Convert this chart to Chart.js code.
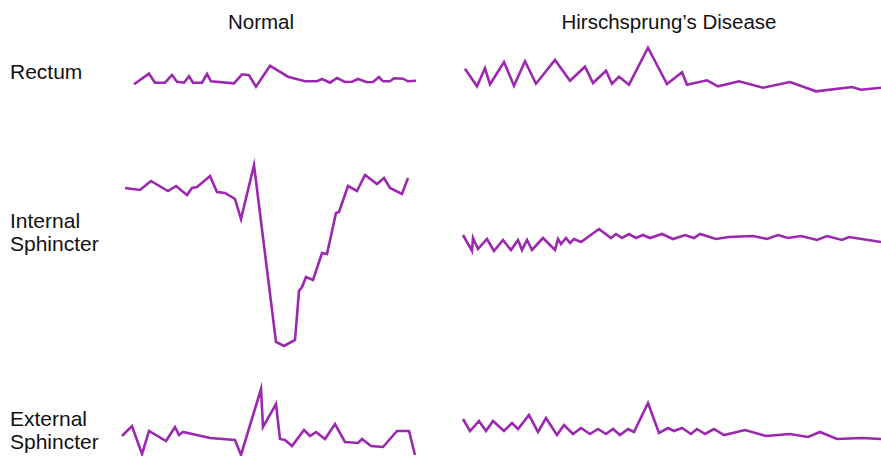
<!DOCTYPE html>
<html>
<head>
<meta charset="utf-8">
<script src="https://cdn.jsdelivr.net/npm/chart.js@4.4.0/dist/chart.umd.min.js"></script>
<style>
  body { margin: 0; background: #fff; width: 881px; height: 456px; overflow: hidden; position: relative;
         font-family: "Liberation Sans", Arial, sans-serif; color: #111; }
  .lbl { position: absolute; font-size: 21px; line-height: 23px; white-space: nowrap; }
  .head { transform: translateX(-50%); font-size: 20.5px; }
  canvas { position: absolute; }
</style>
</head>
<body>
<div class="lbl head" style="left:261px; top:10px">Normal</div>
<div class="lbl head" style="left:669px; top:10px">Hirschsprung’s Disease</div>
<div class="lbl" style="left:10px; top:60px">Rectum</div>
<div class="lbl" style="left:10px; top:209px">Internal<br>Sphincter</div>
<div class="lbl" style="left:10px; top:407px">External<br>Sphincter</div>

<canvas id="c1" style="left:115px; top:40px" width="310" height="60"></canvas>
<canvas id="c2" style="left:455px; top:35px" width="426" height="65"></canvas>
<canvas id="c3" style="left:115px; top:155px" width="310" height="200"></canvas>
<canvas id="c4" style="left:455px; top:215px" width="426" height="45"></canvas>
<canvas id="c5" style="left:115px; top:380px" width="310" height="76"></canvas>
<canvas id="c6" style="left:455px; top:390px" width="426" height="60"></canvas>

<script>
// pressure traces, time (arbitrary units) and pressure (arbitrary units)
var normRectumT = [19,34,40,50,57,62,69,74,78,87,92,96,119,127,134,141,155,173,190,202,207,215,222,230,237,243,252,258,264,268,275,279,288,293,301]
var normRectumP = [15.7,26.3,17.3,17.3,25,18.3,17.3,23.7,17.3,17.3,26,18.7,16.7,25.7,24.7,13.3,34.3,23.3,18.7,18.7,21,17.3,22,18,18.3,21,17.7,18,23,18.7,18.7,21.7,21.3,18.7,19.3]

var hdRectumT = [10,22,30,35,49,59,70,81,100,115,130,138,151,157,164,174,193,212,227,232,252,263,284,308,335,361,397,406,426]
var hdRectumP = [31.3,13.7,31.7,15.7,38,14.3,38.7,16.3,40,19.3,33.3,17,29.3,16.3,23.3,15.3,52.3,16,27.7,15.3,19.7,13.7,18.7,12.3,18,8.7,13,10.3,12.3]

var normIntT = [10,25,36,53,61,72,77,82,95,102,110,120,126,139,161,169,180,184,187,191,198,207,212,221,224,233,242,250,262,269,275,287,293]
var normIntP = [167,165,174,164,169,160,167,168,179,163,162,156,136,190,13,9,15,64,68,78,75,102,101,142,143,169,164,180,171,177,167,161,177]

var hdIntT = [8,17,18,23,32,39,48,56,63,67,72,77,88,100,103,106,111,115,119,126,144,156,161,167,174,181,188,195,207,218,230,239,245,261,274,298,312,323,333,346,362,372,387,394,426]
var hdIntP = [25,9,22,11,21,9,20,10,20,10,20,10,22,10,21,16,22,17,21,18,31,22,26,22,26,22,25,22,26,21,25,22,26,21,23,24,21,25,22,24,20,24,20,23,18]

var normExtT = [7,17,27,34,51,60,64,68,95,120,126,146,148,161,165,170,177,189,195,201,210,220,230,243,247,256,268,282,294,300]
var normExtP = [20,30,2,25,15,29,21,24,18,16,1,67,29,52,17,16,10,26,20,24,17,32,14,13,17,10,9,25,25,1]

var hdExtT = [8,15,24,31,38,49,57,63,74,83,91,102,109,118,126,135,143,151,158,165,173,179,193,204,213,219,227,236,242,250,259,269,290,311,335,353,365,382,407,426]
var hdExtP = [31,19,29,19,29,19,27,21,35,18,32,15,25,16,22,16,21,16,21,15,21,18,47,17,22,19,22,16,21,16,21,15,20,14,16,13,18,11,12,11]

var purple = '#9c27b0'

function trace(id, t, p, w, h) {
    var pts = t.map(function (x, i) { return { x: x, y: p[i] } })
    new Chart(document.getElementById(id), {
        type: 'scatter',
        data: {
            datasets: [{
                data: pts,
                showLine: true,
                borderColor: purple,
                borderWidth: 2.6,
                pointRadius: 0,
                tension: 0,
                clip: false
            }]
        },
        options: {
            responsive: false,
            animation: false,
            events: [],
            layout: { padding: 0 },
            plugins: { legend: { display: false }, tooltip: { enabled: false } },
            scales: {
                x: { type: 'linear', min: 0, max: w, display: false },
                y: { type: 'linear', min: 0, max: h, display: false }
            }
        }
    })
}

trace('c1', normRectumT, normRectumP, 310, 60)
trace('c2', hdRectumT, hdRectumP, 426, 65)
trace('c3', normIntT, normIntP, 310, 200)
trace('c4', hdIntT, hdIntP, 426, 45)
trace('c5', normExtT, normExtP, 310, 76)
trace('c6', hdExtT, hdExtP, 426, 60)
</script>
</body>
</html>
